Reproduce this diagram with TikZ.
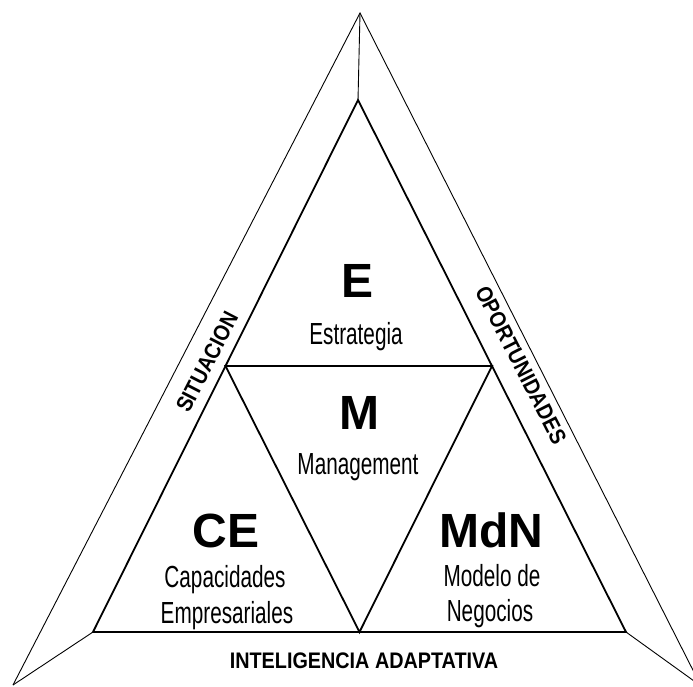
\documentclass[tikz,border=0pt]{standalone}
\usepackage{fontspec}
\usetikzlibrary{calc}
\setmainfont{Liberation Sans}
\newfontfamily\narrowfont[FakeStretch=0.68]{Liberation Sans}
\newfontfamily\edgefont[FakeStretch=0.88]{Liberation Sans}
\begin{document}
\begin{tikzpicture}[x=1pt,y=-1pt,
  inner/.style={line width=1.8pt,line join=miter},
  outer/.style={line width=0.9pt},
  letter/.style={font=\fontsize{48}{52}\selectfont\bfseries,inner sep=0pt,anchor=base},
  caption/.style={font=\narrowfont\fontsize{30.5}{34}\selectfont,inner sep=0pt,anchor=base},
  edgelabel/.style={font=\edgefont\fontsize{22.5}{25}\selectfont\bfseries,inner sep=0pt}]
\useasboundingbox (0,0) rectangle (693,686);
\clip (0,0) rectangle (693,686);

% outer frame corners
\coordinate (OT) at (360,13);
\coordinate (OL) at (13,685);
\coordinate (OR) at (701,686);
% inner triangle corners and side midpoints
\coordinate (IT) at (358,100);
\coordinate (IL) at (93,632);
\coordinate (IR) at (626,632);
\coordinate (ML) at ($(IT)!0.5!(IL)$);
\coordinate (MR) at ($(IT)!0.5!(IR)$);
\coordinate (MB) at ($(IL)!0.5!(IR)$);

% outer frame and its links to the inner triangle
\draw[outer] (OL) -- (OT) -- (OR);
\draw[outer] (OT) -- (IT);
\draw[outer] (IL) -- (OL);
\draw[outer] (IR) -- (OR);

% inner triangle split into four
\draw[inner] (IT) -- (IL) -- (IR) -- cycle;
\draw[inner] (ML) -- (MR) -- (MB) -- cycle;

% top triangle
\node[letter] (e) at (358,297) {E};
\node[caption] (estr) at (356,344) {Estrategia};
% middle triangle
\node[letter] (m) at (359,429) {M};
\node[caption] (mgmt) at (358,474) {Management};
% lower left triangle
\node[letter] (ce) at (226,547) {CE};
\node[caption] (cap1) at (225,587) {Capacidades};
\node[caption] (cap2) at (227,623) {Empresariales};
% lower right triangle
\node[letter] (mdn) at (491,547) {MdN};
\node[caption] (mod1) at (492,586) {Modelo de};
\node[caption] (mod2) at (490,621) {Negocios};

% labels on the frame
\node[edgelabel,rotate=62.7] (sit) at (207,362) {SITUACION};
\node[edgelabel,rotate=-63] (opo) at (521,365) {OPORTUNIDADES};
\node[edgelabel,anchor=base] (intel) at (364,668) {INTELIGENCIA ADAPTATIVA};
\end{tikzpicture}
\end{document}
